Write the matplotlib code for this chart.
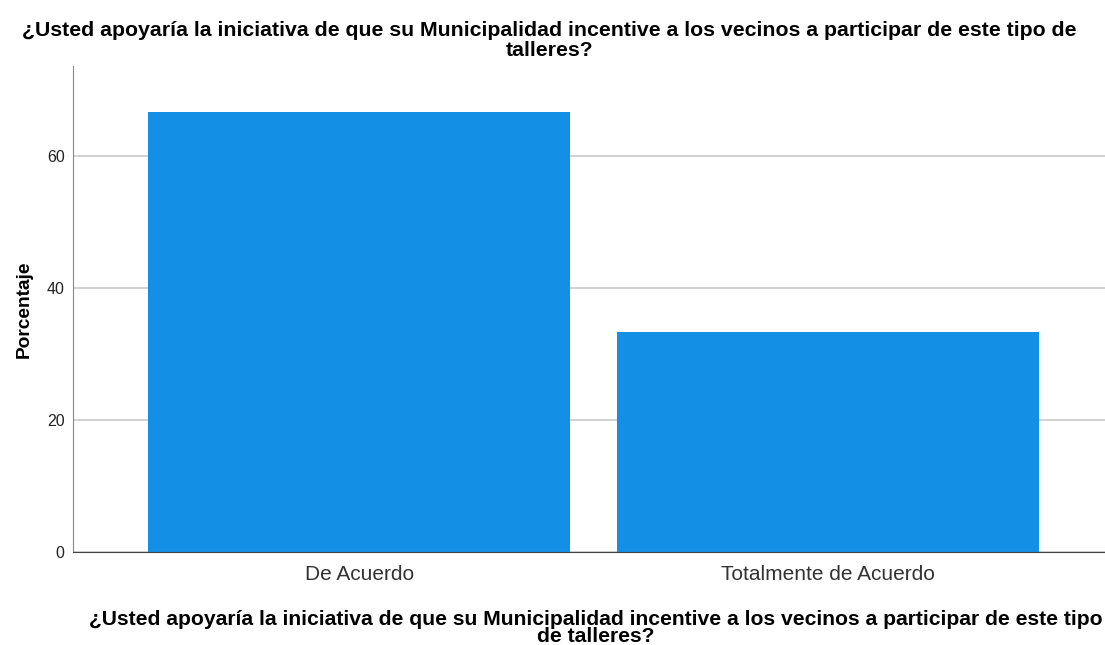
import matplotlib
matplotlib.use("Agg")
import matplotlib.pyplot as plt

categories = ["De Acuerdo", "Totalmente de Acuerdo"]
values = [66.67, 33.33]
yticks = [0, 20, 40, 60]

title = "¿Usted apoyaría la iniciativa de que su Municipalidad incentive a los vecinos a participar de este tipo de\ntalleres?"
xlabel = "¿Usted apoyaría la iniciativa de que su Municipalidad incentive a los vecinos a participar de este tipo\nde talleres?"

plt.rcParams['font.family'] = ['Liberation Sans', 'DejaVu Sans']

fig = plt.figure(figsize=(11.05, 6.45), dpi=100)
ax = fig.add_axes([73/1105, 93/645, (1105-73)/1105, (552-66)/645])

x = list(range(len(categories)))
ax.bar(x, values, width=0.9, color="#1390e6", zorder=2)
ax.set_xlim(-0.61, 1.59)
ax.set_ylim(0, 73.6)
ax.set_yticks(yticks)
ax.set_yticklabels([str(t) for t in yticks], fontsize=11.5, color="#222222")
ax.set_xticks(x)
ax.set_xticklabels(categories, fontsize=15, color="#333333")
ax.tick_params(axis='both', length=0, pad=6)
ax.tick_params(axis='x', pad=9)
ax.yaxis.grid(True, color="#c8c8c8", linewidth=1.2, zorder=0)
ax.set_axisbelow(True)
for s in ["top", "right"]:
    ax.spines[s].set_visible(False)
ax.spines["left"].set_color("#888888")
ax.spines["bottom"].set_color("#444444")
ax.set_ylabel("Porcentaje", fontsize=13.8, fontweight="bold", labelpad=10)
ax.set_xlabel(xlabel, fontsize=15.2, fontweight="bold", labelpad=19, linespacing=0.88)
ax.xaxis.label.set_x(0.507)
fig.text(0.497, 1 - 21/645, title, ha="center", va="top", fontsize=15.3, fontweight="bold", linespacing=1.04)

fig.savefig("out.png", dpi=100)
